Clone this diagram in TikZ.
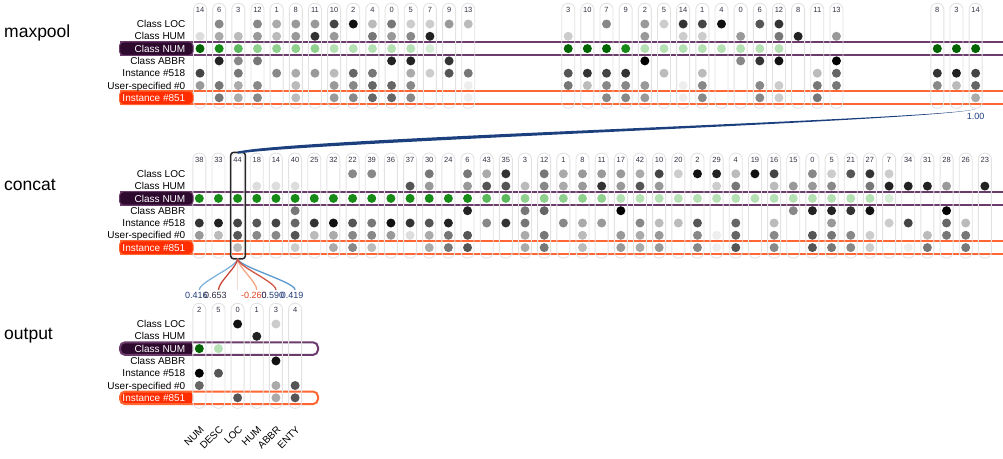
\documentclass[tikz,border=0pt]{standalone}
\usepackage{fontspec}
\setmainfont{Liberation Sans}
\usetikzlibrary{calc}
\definecolor{gE}{HTML}{EEEEEE}\definecolor{gD}{HTML}{DDDDDD}\definecolor{gC}{HTML}{CCCCCC}
\definecolor{gB}{HTML}{BBBBBB}\definecolor{gA}{HTML}{AAAAAA}\definecolor{g9}{HTML}{999999}
\definecolor{g8}{HTML}{888888}\definecolor{g7}{HTML}{777777}\definecolor{g6}{HTML}{666666}
\definecolor{g5}{HTML}{555555}\definecolor{g4}{HTML}{444444}\definecolor{g3}{HTML}{333333}
\definecolor{g2}{HTML}{222222}\definecolor{g1}{HTML}{111111}\definecolor{g0}{HTML}{000000}
\definecolor{N1}{HTML}{D6EED6}\definecolor{N2}{HTML}{B4E0B4}\definecolor{N3}{HTML}{8FD08F}
\definecolor{N4}{HTML}{5CB85C}\definecolor{N5}{HTML}{3A9F3A}\definecolor{N6}{HTML}{178A17}
\definecolor{N7}{HTML}{006400}
\definecolor{capc}{HTML}{E2E2E2}
\definecolor{purp}{HTML}{6B3C6B}
\definecolor{purpdk}{HTML}{2E0A2E}
\definecolor{orl}{HTML}{FF6633}
\definecolor{orfill}{HTML}{FF2D00}
\definecolor{numc}{HTML}{333344}
\definecolor{wpos}{HTML}{1F3B78}
\definecolor{wdark}{HTML}{2A2A40}
\definecolor{wneg}{HTML}{E0441F}
\definecolor{linkc}{HTML}{1C3F7E}
\definecolor{lw0}{HTML}{7FB3DD}\definecolor{lw1}{HTML}{C9473A}\definecolor{lw2}{HTML}{F3DAD2}
\definecolor{lw3}{HTML}{F4A582}\definecolor{lw4}{HTML}{D05545}\definecolor{lw5}{HTML}{5A9ACF}
\tikzset{
  capsule/.style={draw=capc, line width=0.9pt, rounded corners=6.2pt, minimum width=13pt, minimum height=105pt, inner sep=0pt},
  collab/.style={font=\fontsize{7.5}{8}\selectfont, text=numc, inner sep=0pt},
  rowlab/.style={font=\fontsize{10}{11}\selectfont, anchor=base east, inner sep=0pt},
  title/.style={font=\fontsize{17.5}{20}\selectfont, anchor=base west, inner sep=0pt},
  numband/.style={draw=purp, line width=2pt},
  insband/.style={draw=orl, line width=2pt},
  numbox/.style={fill=purpdk, draw=purp, line width=1pt, rounded corners=4pt},
  insbox/.style={fill=orfill, draw=orl, line width=1pt, rounded corners=4pt},
  wlab/.style={font=\fontsize{9}{10}\selectfont, inner sep=0pt},
  clslab/.style={font=\fontsize{10}{11}\selectfont, anchor=east, rotate=45, inner sep=0pt},
  hlbox/.style={draw=black!85, line width=1.5pt, rounded corners=3pt},
  wline/.style={line width=1.3pt},
}
\def\mynone{none}
\newcommand\mydot[3]{\edef\mytmp{#3}\ifx\mytmp\mynone\else\fill[#3] (#1,#2) circle[radius=4.5];\fi}
\newcommand\mycols[4]{%
  \foreach \i/\lab/\ra/\rb/\rc/\rd/\re/\rf/\rg in {#4}{%
    \pgfmathsetmacro\cx{#2+19.16*\i}%
    \node[capsule] (#1-\i) at (\cx,#3+31.8) {};
    \node[collab] (#1-n\i) at (\cx,#3-14.3) {\lab};
    \mydot{\cx}{#3}{\ra}
    \mydot{\cx}{#3+12.3}{\rb}
    \mydot{\cx}{#3+24.6}{\rc}
    \mydot{\cx}{#3+36.9}{\rd}
    \mydot{\cx}{#3+49.2}{\re}
    \mydot{\cx}{#3+61.5}{\rf}
    \mydot{\cx}{#3+73.8}{\rg}
  }}
\newcommand\mybands[1]{%
  \draw[numband] (120,#1+18.4) -- (1003,#1+18.4);
  \draw[numband] (120,#1+30.8) -- (1003,#1+30.8);
  \draw[insband] (120,#1+67.4) -- (1003,#1+67.4);
  \draw[insband] (120,#1+80.2) -- (1003,#1+80.2);
}
\newcommand\mytexts[2]{%
  \node[rowlab] (#2-loc) at (185.5,#1+3.6) {Class LOC};
  \node[rowlab] (#2-hum) at (185.5,#1+15.9) {Class HUM};
  \node[rowlab,text=white] (#2-num) at (185.5,#1+28.2) {Class NUM};
  \node[rowlab] (#2-abbr) at (185.5,#1+40.5) {Class ABBR};
  \node[rowlab] (#2-i518) at (185.5,#1+52.8) {Instance \#518};
  \node[rowlab] (#2-user) at (185.5,#1+65.1) {User-specified \#0};
  \node[rowlab,text=white] (#2-i851) at (185.5,#1+77.4) {Instance \#851};
}
\newcommand\mylabelboxes[1]{%
  \path[numbox] (119.5,#1+17.8) rectangle (193,#1+31.4);
  \path[insbox] (119.5,#1+67.0) rectangle (193,#1+80.6);
}
\begin{document}
\begin{tikzpicture}[x=1pt,y=-1pt]
\useasboundingbox (0,0) rectangle (1003,458);

% titles
\node[title] (t-mp) at (4,37.5) {maxpool};
\node[title] (t-cc) at (4,190.5) {concat};
\node[title] (t-out) at (4,339.5) {output};

% row bands
\mybands{24}
\mybands{173.8}
% output row boxes
\path[fill=purpdk, rounded corners=4pt] (120,342.3) rectangle (193,354.9);
\draw[numband, rounded corners=5pt] (120,342.3) rectangle (318,354.9);
\path[fill=orfill, rounded corners=4pt] (120,391.5) rectangle (193,404.1);
\draw[insband, rounded corners=5pt] (120,391.5) rectangle (318,404.1);

% maxpool columns
\mycols{mpA}{200}{24}{0/14/none/gD/N7/none/g4/g9/none,
1/6/g8/gA/N6/g2/none/g7/g7,
2/3/none/gB/N4/g8/g7/gA/gA,
3/12/g8/g9/N3/g7/none/g8/g8,
4/1/gA/gB/N3/none/g8/none/none,
5/8/g9/g9/N3/none/gA/gB/gB,
6/11/g9/g3/N3/none/g9/none/none,
7/10/g4/g9/N2/none/gB/g9/g9,
8/2/g1/none/N2/none/g6/g8/g8,
9/4/gB/g7/N2/none/g7/g6/g6,
10/0/g7/g9/N2/g2/none/g6/g6,
11/5/gC/g8/N2/g2/gA/g8/g8,
12/7/gC/g2/N1/none/gC/none/none,
13/9/g9/none/none/g3/g5/none/none,
14/13/gB/none/none/none/g7/gE/gE}
\mycols{mpB}{568.2}{24}{0/3/none/gC/N7/none/g5/g7/none,
1/10/none/none/N7/none/g3/gB/none,
2/7/g8/none/N7/none/g4/g8/g8,
3/9/none/none/N6/none/g3/g8/g8,
4/2/g9/g9/N2/g0/none/g9/g9,
5/5/gC/none/N2/none/gB/none/none,
6/14/g3/gC/N2/none/none/gE/gE,
7/1/g4/gC/N2/none/gB/g8/g8,
8/4/g1/none/N2/none/none/none/none,
9/0/none/g9/N2/g8/none/none/none,
10/6/g5/none/N2/g3/none/g8/g8,
11/12/g3/g7/N2/g1/none/gC/gC,
12/8/none/g2/none/none/none/none/none,
13/11/none/none/none/none/gB/g7/g7,
14/13/none/g9/none/g0/g6/g7/none}
\mycols{mpC}{937.3}{24}{0/8/none/none/N7/none/g3/g8/none,
1/3/none/none/N7/none/g2/gB/none,
2/14/none/none/N7/none/g4/g6/gA}

% concat columns
\mycols{cc}{199.3}{173.8}{0/38/none/none/N6/none/g3/g9/none,
1/33/none/none/N6/none/g2/gB/none,
2/44/none/none/N6/none/g4/g5/gB,
3/18/none/gD/N6/none/g5/g8/none,
4/14/none/gD/N6/none/g4/g8/none,
5/40/none/gD/N6/g7/g6/g5/gC,
6/25/none/none/N6/none/g3/gB/none,
7/32/none/none/N6/none/g1/gA/gA,
8/22/g8/none/N6/none/g5/g8/g8,
9/39/g8/none/N6/none/g7/g8/gB,
10/36/none/none/N6/none/g1/g9/none,
11/37/none/g5/N6/none/g3/gD/none,
12/30/g7/g9/N6/none/g5/gA/gA,
13/24/none/none/N6/none/g2/g7/g7,
14/6/g7/g9/N6/g2/none/g5/g5,
15/43/gA/g5/N4/none/g8/none/none,
16/35/g3/g5/N4/none/g3/none/none,
17/3/none/gB/N3/g7/g7/gA/gA,
18/12/g7/g8/N3/g6/none/g7/g7,
19/1/gA/gA/N3/none/g8/none/none,
20/8/g9/g9/N3/none/gA/gB/gB,
21/11/g9/g3/N3/none/g9/none/none,
22/17/g9/g9/N2/g0/none/g9/g9,
23/42/gA/g5/N2/none/g8/gA/gA,
24/10/g4/g9/N2/none/gB/g9/g9,
25/20/gC/none/N2/none/gB/none/none,
26/2/g1/none/N2/none/g5/g8/g8,
27/29/g2/gC/N2/none/none/gE/gE,
28/4/gB/g7/N2/none/g6/g6/g5,
29/19/g1/none/N2/none/none/none/none,
30/16/g4/gB/N2/none/gB/g8/g8,
31/15/none/g9/N2/g8/none/none/none,
32/0/g8/g9/N2/g2/none/g5/g5,
33/5/gC/g8/N2/g2/g9/g7/g7,
34/21/g5/none/N2/g3/none/g8/g8,
35/27/g3/g7/N2/g1/none/gC/gC,
36/7/gC/g2/N1/none/gC/none/none,
37/34/none/g2/none/none/g4/none/gE,
38/31/none/g2/none/none/none/gB/g7,
39/28/none/g9/none/g0/g6/g7/none,
40/26/none/none/none/none/gB/g7/g7,
41/23/none/g2/none/none/none/none/none}

% output columns
\mycols{out}{199.3}{324}{0/2/none/none/N7/none/g0/g6/none,
1/5/none/none/N2/none/g5/none/none,
2/0/g1/none/none/none/none/none/g5,
3/1/none/g2/none/none/none/none/none,
4/3/gC/none/none/g1/none/gA/gA,
5/4/none/none/none/none/none/g5/g5}

% row labels
\mylabelboxes{24}
\mylabelboxes{173.8}
\mytexts{24}{mpl}
\mytexts{173.8}{ccl}
\mytexts{324}{outl}

% highlighted concat column
\draw[hlbox] ($(cc-2.north west)+(0,-0.3)$) rectangle ($(cc-2.south east)+(0.8,0.3)$);

% maxpool -> concat link
\fill[linkc] (mpC-2.south) .. controls +(-15,10) and +(62,-14) .. ($(cc-2.north)+(0,-1.1)$)
  -- ($(cc-2.north)+(0,1.1)$) .. controls +(62,-11) and +(-15,11) .. (mpC-2.south) -- cycle;
\node[wlab,text=linkc] (w-link) at ($(mpC-2.south)+(0,7.5)$) {1.00};

% concat -> output weights
\foreach \j/\c in {2/lw2,0/lw0,3/lw3,5/lw5,1/lw1,4/lw4}{
  \draw[wline,draw=\c] (cc-2.south) .. controls +(0,8) and +(0,-8) .. ($(out-\j.north)+(0,-13)$);
}
\node[wlab,text=wpos] (w-0) at ($(out-0.north)+(-3,-7)$) {0.416};
\node[wlab,text=wdark] (w-1) at ($(out-1.north)+(-3,-7)$) {0.653};
\node[wlab,text=wneg] (w-3) at ($(out-3.north)+(-3,-7)$) {-0.260};
\node[wlab,text=wpos] (w-4) at ($(out-4.north)+(-3,-7)$) {0.590};
\node[wlab,text=wpos] (w-5) at ($(out-5.north)+(-3,-7)$) {0.419};

% class names under output
\node[clslab] (c-0) at ($(out-0.south)+(3,19)$) {NUM};
\node[clslab] (c-1) at ($(out-1.south)+(3,19)$) {DESC};
\node[clslab] (c-2) at ($(out-2.south)+(3,19)$) {LOC};
\node[clslab] (c-3) at ($(out-3.south)+(3,19)$) {HUM};
\node[clslab] (c-4) at ($(out-4.south)+(3,19)$) {ABBR};
\node[clslab] (c-5) at ($(out-5.south)+(3,19)$) {ENTY};
\end{tikzpicture}
\end{document}
